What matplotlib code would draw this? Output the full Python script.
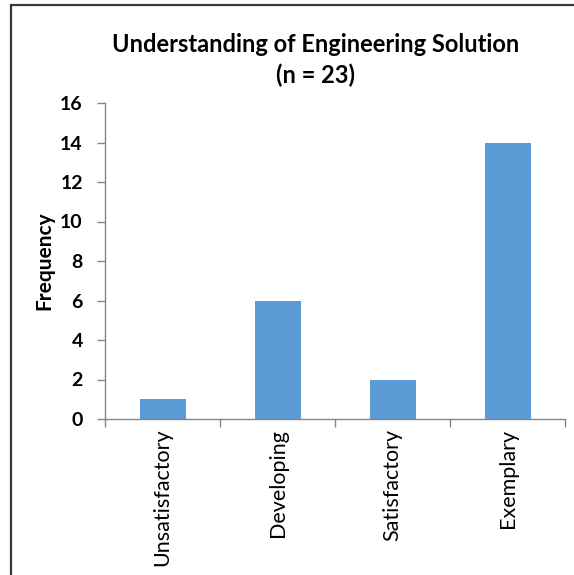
import matplotlib
matplotlib.use("Agg")
import matplotlib.pyplot as plt
from matplotlib.patches import Rectangle

categories = ["Unsatisfactory", "Developing", "Satisfactory", "Exemplary"]
frequency = [1, 6, 2, 14]
y_ticks = [0, 2, 4, 6, 8, 10, 12, 14, 16]
title_lines = ["Understanding of Engineering Solution", "(n = 23)"]

plt.rcParams["font.family"] = ["Lato", "DejaVu Sans"]

W, H = 574, 575
fig = plt.figure(figsize=(W / 100, H / 100), dpi=100)
ax = fig.add_axes([105 / W, 1 - 419 / H, (565 - 105) / W, (419 - 103) / H])

bar_color = "#5B9BD5"
axis_color = "#868686"
x = range(len(categories))
ax.bar(x, frequency, width=0.4, color=bar_color, zorder=2)

ax.set_xlim(-0.5, len(categories) - 0.5)
ax.set_ylim(0, 16)
ax.set_yticks(y_ticks)
ax.set_yticklabels([str(v) for v in y_ticks], fontsize=14, fontweight="bold")

# category ticks sit on the boundaries between bars
ax.set_xticks([i - 0.5 for i in range(len(categories) + 1)])
ax.set_xticklabels([])
ax.set_xticks(list(x), minor=True)
ax.set_xticklabels(categories, minor=True, rotation=90, fontsize=15.5,
                   va="top", ha="center")
ax.tick_params(axis="x", which="minor", length=0, pad=7)
ax.tick_params(axis="x", which="major", length=6, width=1, color=axis_color,
               direction="out")
ax.tick_params(axis="y", length=6, width=1, color=axis_color, pad=10,
               direction="out")

for side in ("top", "right"):
    ax.spines[side].set_visible(False)
for side in ("left", "bottom"):
    ax.spines[side].set_color(axis_color)
    ax.spines[side].set_linewidth(1)

ax.set_ylabel("Frequency", fontsize=15, fontweight="bold")
ax.yaxis.set_label_coords((54 - 105) / 460, 0.5)

fig.text(316 / W, 1 - 44 / H, title_lines[0], ha="center", va="center",
         fontsize=17, fontweight="bold")
fig.text(316 / W, 1 - 75 / H, title_lines[1], ha="center", va="center",
         fontsize=17, fontweight="bold")

# chart frame, partly running off the canvas
fig.patches.append(Rectangle((11 / W, -0.1), 1.2, 1 - 5 / H + 0.1,
                             transform=fig.transFigure, fill=False,
                             edgecolor="#3a3a3a", linewidth=1.6))

fig.savefig("out.png", dpi=100)
